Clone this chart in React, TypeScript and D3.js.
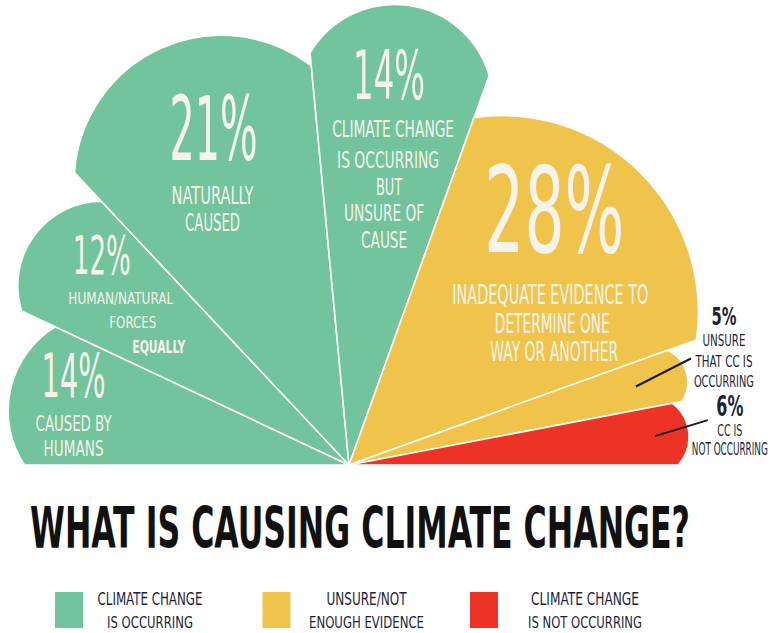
import React from "react";
import * as d3 from "d3";

// ---------- data ----------
const categories = [
  "Caused by humans",
  "Human/natural forces equally",
  "Naturally caused",
  "Climate change is occurring but unsure of cause",
  "Inadequate evidence to determine one way or another",
  "Unsure that CC is occurring",
  "CC is not occurring",
];
const values = [14, 12, 21, 14, 28, 5, 6];
const groups = ["occurring", "occurring", "occurring", "occurring", "unsure", "unsure", "not"];
const labelLines = [
  ["CAUSED BY", "HUMANS"],
  ["HUMAN/NATURAL", "FORCES", "EQUALLY"],
  ["NATURALLY", "CAUSED"],
  ["CLIMATE CHANGE", "IS OCCURRING", "BUT", "UNSURE OF", "CAUSE"],
  ["INADEQUATE EVIDENCE TO", "DETERMINE ONE", "WAY OR ANOTHER"],
  ["UNSURE", "THAT CC IS", "OCCURRING"],
  ["CC IS", "NOT OCCURRING"],
];
const legendGroups = ["occurring", "unsure", "not"];
const legendLabels = [
  ["CLIMATE CHANGE", "IS OCCURRING"],
  ["UNSURE/NOT", "ENOUGH EVIDENCE"],
  ["CLIMATE CHANGE", "IS NOT OCCURRING"],
];
const title = "WHAT IS CAUSING CLIMATE CHANGE?";

// ---------- styles / layout ----------
const W = 775;
const H = 633;
const ORIGIN = { x: 349, y: 465 };
const color = d3
  .scaleOrdinal<string, string>()
  .domain(["occurring", "unsure", "not"])
  .range(["#71c49b", "#f0c44b", "#ec3325"]);
const FONT = "'Liberation Sans Narrow', 'DejaVu Sans Condensed', 'Roboto', sans-serif";
const INNER_TEXT = "#f6f3ec";
const DARK_TEXT = "#1d1f3a";

// envelope (superellipse) for petal reach
const ENV_A = 340;
const ENV_B = 462;
const ENV_N = 2.5;
const CAP_PER_RAD = 223.5;

const insideLayout = [
  { f: 0.79, pct: { dx: -8, dy: -8, cap: 43, w: 64 }, lines: [{ dx: -8, dy: 26, cap: 15, w: 76 }, { dx: -8, dy: 51, cap: 15, w: 60 }] },
  { f: 0.74, pct: { dx: -14, dy: -22, cap: 38, w: 58 }, lines: [{ dx: 5, dy: 8, cap: 12, w: 105 }, { dx: 17, dy: 32, cap: 12, w: 47 }, { dx: 43, dy: 57, cap: 13, w: 53, bold: true }] },
  { f: 0.72, pct: { dx: 0, dy: -5, cap: 64, w: 88 }, lines: [{ dx: -1, dy: 39, cap: 18, w: 82 }, { dx: -1, dy: 66, cap: 18, w: 55 }] },
  { f: 0.69, pct: { dx: 0, dy: -49, cap: 49, w: 72 }, lines: [{ dx: 4, dy: -11, cap: 17, w: 122 }, { dx: -1, dy: 20, cap: 17, w: 102 }, { dx: 0, dy: 47, cap: 17, w: 26 }, { dx: -5, dy: 73, cap: 17, w: 80 }, { dx: -5, dy: 100, cap: 17, w: 46 }] },
  { f: 0.7, pct: { dx: 1, dy: -9, cap: 86, w: 140 }, lines: [{ dx: -3, dy: 43, cap: 19, w: 196 }, { dx: -1, dy: 72, cap: 19, w: 115 }, { dx: 1, dy: 100, cap: 19, w: 128 }] },
];
const outsideLayout: Record<number, any> = {
  5: { f: 0.85, vec: [55, -28], tdx: 33, pct: { dy: -34, cap: 18, w: 25 }, lines: [{ dy: -13, cap: 12, w: 43 }, { dy: 8, cap: 12, w: 57 }, { dy: 28, cap: 12, w: 60 }] },
  6: { f: 0.9, vec: [53, -16], tdx: 22, pct: { dy: -4, cap: 20, w: 27 }, lines: [{ dy: 16, cap: 11, w: 25 }, { dy: 35, cap: 13, w: 76 }] },
};
const legendTextOffset = [95, 104, 115];
const legendWidths = [[105, 86], [80, 115], [108, 114]];

let measureCtx: CanvasRenderingContext2D | null = null;
function measure(text: string, fs: number, weight: number | string) {
  if (!measureCtx) {
    const c = document.createElement("canvas");
    measureCtx = c.getContext("2d");
  }
  if (!measureCtx) return text.length * fs * 0.55;
  measureCtx.font = `${weight} ${fs}px ${FONT}`;
  return measureCtx.measureText(text).width || text.length * fs * 0.55;
}

function envelope(a: number) {
  const s = Math.abs(Math.sin(a));
  const c = Math.abs(Math.cos(a));
  return Math.pow(Math.pow(s / ENV_A, ENV_N) + Math.pow(c / ENV_B, ENV_N), -1 / ENV_N);
}

function petal(a0: number, a1: number) {
  const mid = (a0 + a1) / 2;
  const h = (a1 - a0) / 2;
  const rmax = envelope(mid);
  const rc = CAP_PER_RAD * (a1 - a0);
  const d = rmax - rc;
  const t = d * Math.cos(h) + Math.sqrt(Math.max(0, rc * rc - d * d * Math.sin(h) ** 2));
  const p0 = [t * Math.sin(a0), -t * Math.cos(a0)];
  const p1 = [t * Math.sin(a1), -t * Math.cos(a1)];
  const c = [d * Math.sin(mid), -d * Math.cos(mid)];
  const th0 = Math.atan2(p0[1] - c[1], p0[0] - c[0]);
  const th1 = Math.atan2(p1[1] - c[1], p1[0] - c[0]);
  const p = d3.path();
  p.moveTo(0, 0);
  p.lineTo(p0[0], p0[1]);
  p.arc(c[0], c[1], rc, th0, th1, false);
  p.closePath();
  return { path: p.toString(), mid, rmax };
}

// text drawn at its natural size, then squeezed horizontally to the wanted width
function T(props: { x: number; y: number; text: string; cap: number; w: number; fill: string; weight?: number | string }) {
  const { x, y, text, cap, w, fill } = props;
  const weight = props.weight ?? 400;
  const fs = cap / 0.72;
  const natural = measure(text, fs, weight);
  const sx = w / natural;
  return (
    <text
      transform={`translate(${x},${y}) scale(${sx},1)`}
      x={0}
      y={0}
      textAnchor="middle"
      fontFamily={FONT}
      fontSize={fs}
      fontWeight={weight}
      fill={fill}
    >
      {text}
    </text>
  );
}

export default function App() {
  const pie = d3
    .pie<number>()
    .sort(null)
    .value((d) => d)
    .startAngle(-Math.PI / 2)
    .endAngle(Math.PI / 2);
  const arcs = pie(values);
  const petals = arcs.map((a) => petal(a.startAngle, a.endAngle));
  const polar = (a: number, r: number) => [r * Math.sin(a), -r * Math.cos(a)];

  const legendX = d3.scaleLinear().domain([0, 1]).range([55, 262.5]);

  return (
    <svg
      width={W}
      height={H}
      viewBox={`0 0 ${W} ${H}`}
      style={{ position: "absolute", left: 0, top: 0, background: "#fff" }}
    >
      <g transform={`translate(${ORIGIN.x},${ORIGIN.y})`}>
        {petals.map((p, i) => (
          <path key={categories[i]} d={p.path} fill={color(groups[i])} stroke="#ffffff" strokeWidth={1.6} strokeLinejoin="round" />
        ))}
        {petals.map((p, i) => {
          const lay = insideLayout[i];
          if (!lay) return null;
          const [ax, ay] = polar(p.mid, lay.f * p.rmax);
          return (
            <g key={"lab" + i}>
              <T x={ax + lay.pct.dx} y={ay + lay.pct.dy} text={`${values[i]}%`} cap={lay.pct.cap} w={lay.pct.w} fill={INNER_TEXT} weight={400} />
              {labelLines[i].map((ln, j) => {
                const L = lay.lines[j];
                return (
                  <T key={j} x={ax + L.dx} y={ay + L.dy} text={ln} cap={L.cap} w={L.w} fill={INNER_TEXT} weight={L.bold ? 700 : 400} />
                );
              })}
            </g>
          );
        })}
        {petals.map((p, i) => {
          const lay = outsideLayout[i];
          if (!lay) return null;
          const [sx, sy] = polar(p.mid, lay.f * p.rmax);
          const ex = sx + lay.vec[0];
          const ey = sy + lay.vec[1];
          const tx = ex + lay.tdx;
          return (
            <g key={"out" + i}>
              <line x1={sx} y1={sy} x2={ex} y2={ey} stroke="#1a1a1a" strokeWidth={2} />
              <T x={tx} y={ey + lay.pct.dy} text={`${values[i]}%`} cap={lay.pct.cap} w={lay.pct.w} fill={DARK_TEXT} weight={700} />
              {labelLines[i].map((ln, j) => {
                const L = lay.lines[j];
                return <T key={j} x={tx} y={ey + L.dy} text={ln} cap={L.cap} w={L.w} fill={DARK_TEXT} weight={400} />;
              })}
            </g>
          );
        })}
      </g>

      <T x={360} y={548} text={title} cap={41} w={660} fill="#111111" weight={700} />

      {legendGroups.map((g, i) => {
        const x = legendX(i);
        return (
          <g key={g}>
            <rect x={x} y={592} width={28} height={36} fill={color(g)} />
            <T x={x + legendTextOffset[i]} y={605} text={legendLabels[i][0]} cap={13} w={legendWidths[i][0]} fill={DARK_TEXT} />
            <T x={x + legendTextOffset[i]} y={628} text={legendLabels[i][1]} cap={12} w={legendWidths[i][1]} fill={DARK_TEXT} />
          </g>
        );
      })}
    </svg>
  );
}
